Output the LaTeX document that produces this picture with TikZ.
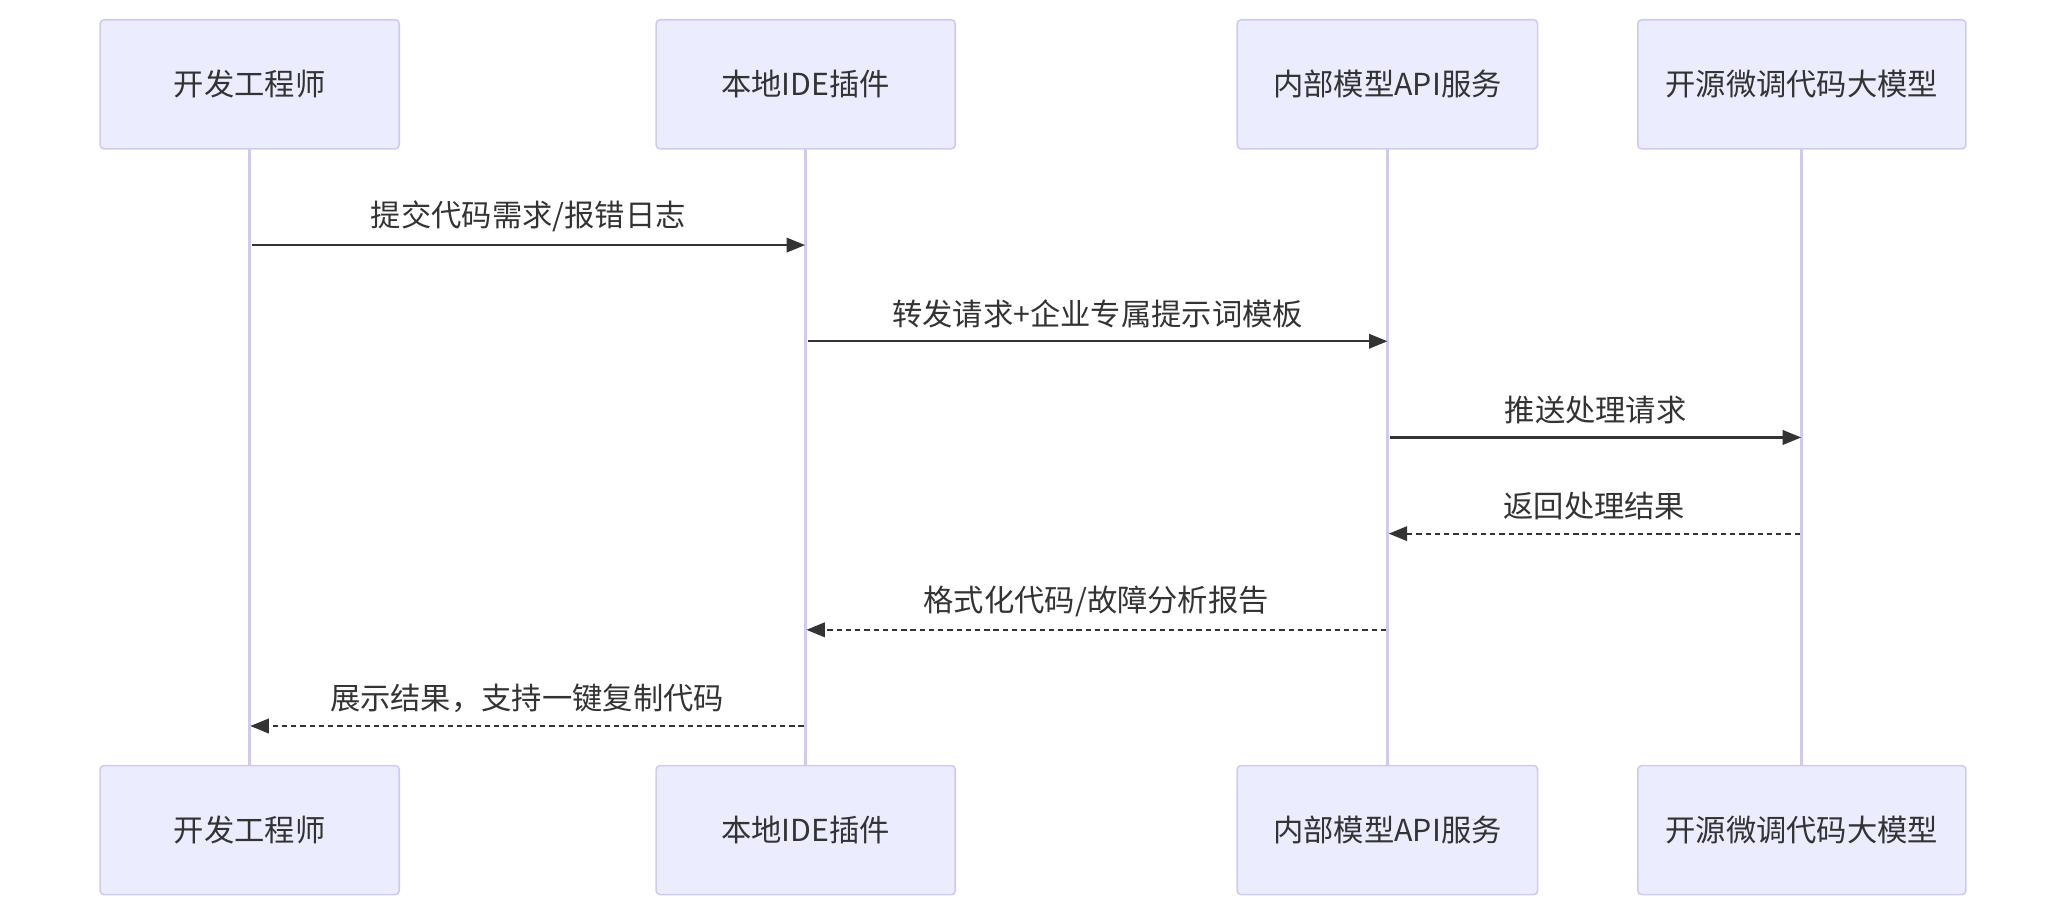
\documentclass[tikz,border=0pt]{standalone}
\usepackage{fontspec}
\setmainfont{Noto Sans CJK SC}
\usetikzlibrary{arrows.meta}
\definecolor{boxf}{HTML}{ECECFF}
\definecolor{boxd}{HTML}{CFCBEE}
\definecolor{ln}{HTML}{333333}
\begin{document}
\begin{tikzpicture}[x=1pt,y=-1pt,
 actor/.style={draw=boxd,fill=boxf,line width=1.2pt,rounded corners=3pt,minimum height=98pt,font=\fontsize{23}{26}\selectfont,text=ln},
 life/.style={draw=boxd,line width=2.2pt},
 msg/.style={draw=ln,line width=1.6pt,-{Triangle[length=14pt,width=11pt]}},
 ret/.style={msg,dash pattern=on 4pt off 3pt},
 lab/.style={font=\fontsize{23}{26}\selectfont,text=ln,anchor=south}]
\useasboundingbox (0,0) rectangle (1568,697);
\foreach \n/\x/\w/\t in {a/189.5/227/开发工程师,b/611.5/227/本地IDE插件,c/1053/228/内部模型API服务,d/1367.5/249/开源微调代码大模型}{
 \draw[life] (\x,113) -- (\x,581);
 \node[actor,minimum width=\w pt] (\n1) at (\x,64) {\t};
 \node[actor,minimum width=\w pt] (\n2) at (\x,630) {\t};
}
\coordinate (a1m) at (191,186); \coordinate (b1m) at (611,186);
\coordinate (b2m) at (613,259); \coordinate (c2m) at (1053,259);
\coordinate (c3m) at (1055,332); \coordinate (d3m) at (1367,332);
\coordinate (d4m) at (1366,405); \coordinate (c4m) at (1054,405);
\coordinate (c5m) at (1052,478); \coordinate (b5m) at (612,478);
\coordinate (b6m) at (610,551); \coordinate (a6m) at (190,551);
\draw[msg] (a1m) -- (b1m) node[lab,midway,above=6pt] {提交代码需求/报错日志};
\draw[msg] (b2m) -- (c2m) node[lab,midway,above=6pt] {转发请求+企业专属提示词模板};
\draw[msg] (c3m) -- (d3m) node[lab,midway,above=6pt] {推送处理请求};
\draw[ret] (d4m) -- (c4m) node[lab,midway,above=6pt] {返回处理结果};
\draw[ret] (c5m) -- (b5m) node[lab,midway,above=6pt] {格式化代码/故障分析报告};
\draw[ret] (b6m) -- (a6m) node[lab,midway,above=6pt] {展示结果，支持一键复制代码};
\end{tikzpicture}
\end{document}
